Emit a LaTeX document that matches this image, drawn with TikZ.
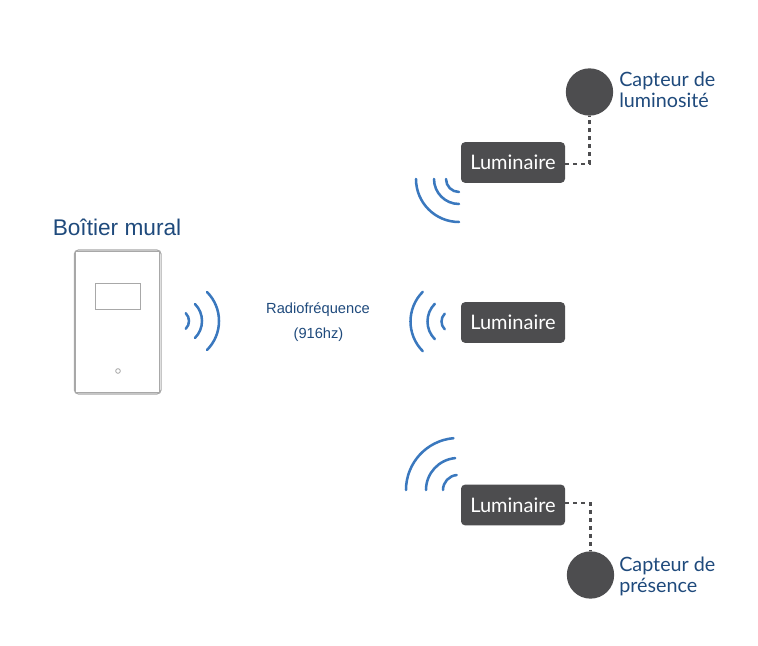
\documentclass[tikz,border=0pt]{standalone}
\usepackage{fontspec}
\setmainfont{Liberation Sans}
\newfontfamily\latofont{Lato}
\definecolor{boxgrey}{HTML}{4D4D4F}
\definecolor{titleblue}{HTML}{1F4A7C}
\definecolor{wireblue}{HTML}{3A78BE}
\definecolor{casegrey}{HTML}{A8A8A8}
\begin{document}
\begin{tikzpicture}[x=.75pt,y=.75pt,
lamp/.style={fill=boxgrey,rounded corners=3pt,minimum width=78pt,minimum height=30.5pt,inner sep=0pt,text=white,font=\latofont\fontsize{15}{15}\selectfont},
sensor/.style={circle,fill=boxgrey,minimum size=35.5pt,inner sep=0pt},
tag/.style={align=left,anchor=west,inner sep=0pt,text=titleblue,font=\latofont\fontsize{14.8}{15.8}\selectfont},
note/.style={inner sep=0pt,text=titleblue,font=\fontsize{11}{13}\selectfont},
wave/.style={draw=wireblue,line width=1.9pt,line cap=round},
link/.style={draw=boxgrey,line width=1.6pt,dash pattern=on 3pt off 3pt},
shell/.style={draw=casegrey,inner sep=0pt}]
\useasboundingbox (0,0) rectangle (758,646);
\node[inner sep=0pt,text=titleblue,font=\fontsize{17}{20}\selectfont] (title) at (117,419) {Boîtier mural};
\node[shell,line width=.8pt,rounded corners=3pt,minimum width=65pt,minimum height=108pt] (case) at (117.7,324) {};
\node[shell,line width=.8pt,minimum width=63pt,minimum height=106pt] (inner) at (117.7,324) {};
\node[shell,line width=.7pt,minimum width=34pt,minimum height=19.5pt] (screen) at (118,349.5) {};
\node[shell,circle,line width=.6pt,minimum size=3.5pt] (hole) at (118,275) {};
\node[note] (rf1) at (318,336.5) {Radiofréquence};
\node[note] (rf2) at (318.5,311.5) {(916hz)};
\node[lamp] (l1) at (513,483.5) {Luminaire};
\node[lamp] (l2) at (513,323.5) {Luminaire};
\node[lamp] (l3) at (513,141) {Luminaire};
\node[sensor] (s1) at (589.5,554) {};
\node[sensor] (s2) at (590.5,71) {};
\node[tag] (t1) at (619,556.5) {Capteur de\\luminosité};
\node[tag] (t2) at (619,70) {Capteur de\\présence};
\draw[link] ([yshift=-1pt]l1.east) -| (s1.south);
\draw[link] ([yshift=1.5pt]l3.east) -| (s2.north);
\foreach \r in {11,24,41}
  \draw[wave] (178,325) ++(45:\r) arc[start angle=45,delta angle=-90,radius=\r*.75pt];
\foreach \r in {11,25,42}
  \draw[wave] (452.5,324.5) ++(135:\r) arc[start angle=135,delta angle=90,radius=\r*.75pt];
\foreach \r in {13,25,43}
  \draw[wave] (459,467) ++(180:\r) arc[start angle=180,delta angle=90,radius=\r*.75pt];
\foreach \r in {15,32,52}
  \draw[wave] (458,156) ++(180:\r) arc[start angle=180,delta angle=-85,radius=\r*.75pt];
\end{tikzpicture}
\end{document}
